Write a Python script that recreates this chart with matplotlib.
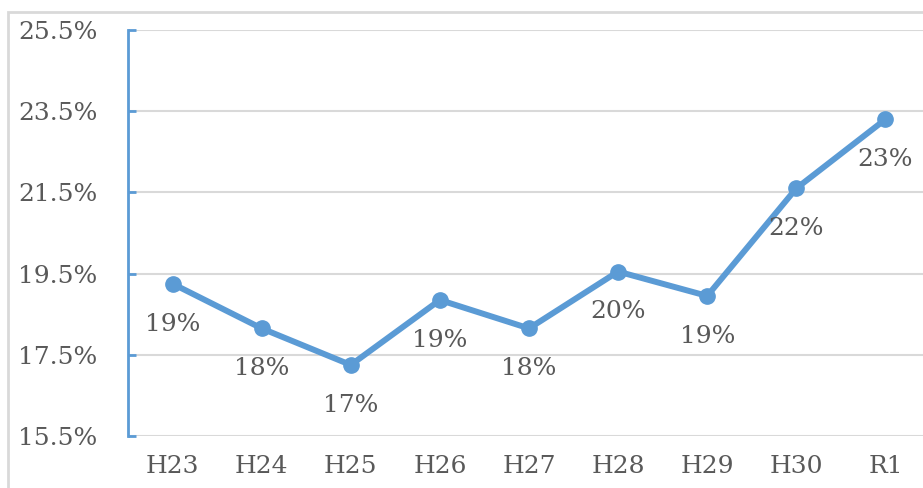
import matplotlib.pyplot as plt
from matplotlib.patches import Rectangle

categories = ["H23", "H24", "H25", "H26", "H27", "H28", "H29", "H30", "R1"]
values = [19.25, 18.15, 17.25, 18.85, 18.15, 19.55, 18.95, 21.6, 23.3]
labels = ["19%", "18%", "17%", "19%", "18%", "20%", "19%", "22%", "23%"]
yticks = [15.5, 17.5, 19.5, 21.5, 23.5, 25.5]

blue = "#5B9BD5"
grey_text = "#595959"
W, H = 923, 488

fig = plt.figure(figsize=(W / 100, H / 100), dpi=100)
fig.patches.append(Rectangle((8 / W, -0.1), 1.2, (H - 12) / H + 0.1,
                             transform=fig.transFigure, fill=False,
                             edgecolor="#d9d9d9", linewidth=2))

ax = fig.add_axes([128 / W, (H - 436) / H, (930 - 128) / W, (436 - 30) / H])
x = list(range(len(categories)))

ax.plot(x, values, color=blue, linewidth=4.3, marker="o", markersize=11,
        solid_capstyle="round", zorder=3)

for xi, v, lab in zip(x, values, labels):
    ax.annotate(lab, (xi, v), xytext=(0, -29), textcoords="offset points",
                ha="center", va="center", fontsize=18, family="DejaVu Serif",
                color=grey_text)

ax.set_xlim(-0.5, 8.5)
ax.set_ylim(15.5, 25.5)
ax.set_yticks(yticks)
ax.set_yticklabels([f"{t}%" for t in yticks], family="DejaVu Serif",
                   fontsize=18, color=grey_text)
ax.set_xticks(x)
ax.set_xticklabels(categories, family="DejaVu Serif", fontsize=18,
                   color=grey_text)

ax.grid(axis="y", color="#d9d9d9", linewidth=1.5)
ax.set_axisbelow(True)
for s in ["top", "right", "bottom"]:
    ax.spines[s].set_visible(False)
ax.spines["left"].set_color(blue)
ax.spines["left"].set_linewidth(2)
ax.tick_params(axis="y", direction="in", length=6, width=2, color=blue, pad=22)
ax.tick_params(axis="x", length=0, pad=14)

fig.savefig("out.png", dpi=100)
